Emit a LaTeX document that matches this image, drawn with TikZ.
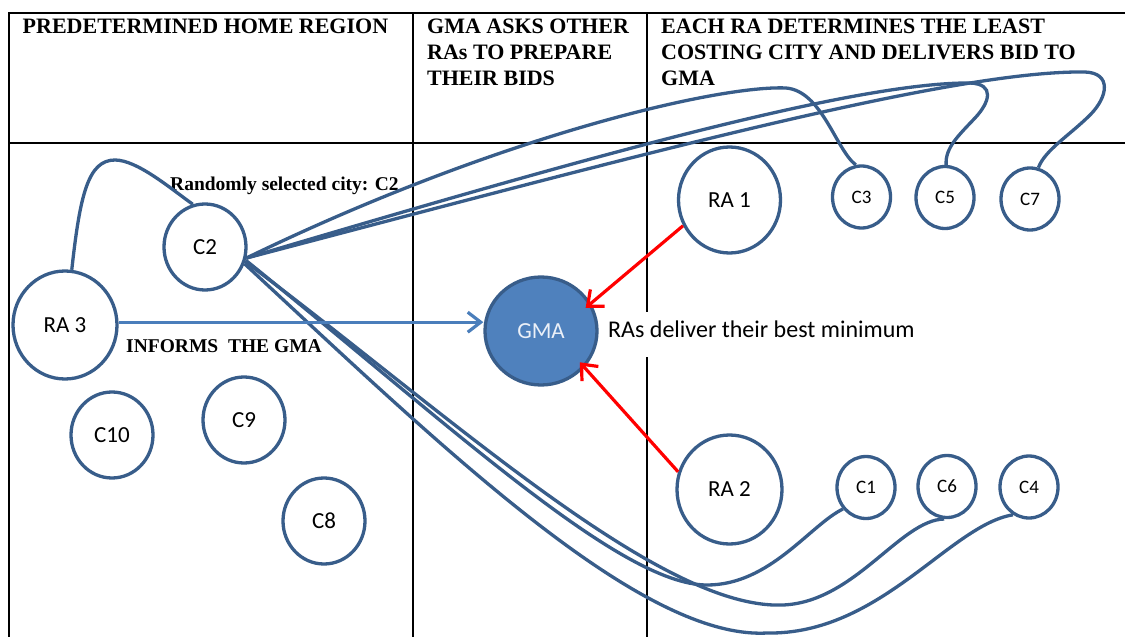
\documentclass[tikz,border=0pt]{standalone}
\usepackage{fontspec}
\setmainfont{Liberation Serif}
\newfontfamily\calib{Carlito}
\usetikzlibrary{arrows.meta,shapes.geometric}
\definecolor{cityblue}{RGB}{56,93,138}
\definecolor{gmafill}{RGB}{79,129,189}
\definecolor{arrowblue}{RGB}{74,126,187}
\begin{document}
\begin{tikzpicture}[x=1pt,y=-1pt,
  tableline/.style={draw=black,line width=1.2pt},
  hdr/.style={font=\bfseries\fontsize{22}{22}\selectfont,inner sep=0,anchor=base west},
  note/.style={font=\bfseries\fontsize{19.5}{19.5}\selectfont,inner sep=0,anchor=base west},
  ellnode/.style={ellipse,draw=cityblue,line width=3.3pt,fill=white,inner sep=0},
  bigcity/.style={ellnode,minimum width=82pt,minimum height=86pt,font=\calib\fontsize{23}{23}\selectfont},
  smallcity/.style={ellnode,minimum width=58pt,minimum height=62pt,font=\calib\fontsize{19}{19}\selectfont},
  agent/.style={ellnode,minimum width=104pt,minimum height=108pt,font=\calib\fontsize{23}{23}\selectfont},
  link/.style={draw=cityblue,line width=3.3pt},
  redarrow/.style={draw=red,line width=3.2pt,-{Straight Barb[length=13pt,width=22pt]}},
  bluearrow/.style={draw=arrowblue,line width=3.2pt,-{Straight Barb[length=13pt,width=20pt]}}
]
\useasboundingbox (0,0) rectangle (1125,637);
\fill[white] (0,0) rectangle (1125,637);
% table
\draw[draw=black,line width=1.5pt] (1125,13) -- (9,13) -- (9,637);
\draw[tableline] (9,143) -- (1125,143);
\draw[tableline] (413,13) -- (413,637);
\draw[tableline] (647,13) -- (647,637);
% headers
\node[hdr] (h1) at (22.5,33.5) {PREDETERMINED HOME REGION};
\node[hdr] (h2a) at (427,34) {GMA ASKS OTHER};
\node[hdr] (h2b) at (427,59.5) {RAs TO PREPARE};
\node[hdr] (h2c) at (427,85) {THEIR BIDS};
\node[hdr] (h3a) at (661,34) {EACH RA DETERMINES THE LEAST};
\node[hdr] (h3b) at (661,59.5) {COSTING CITY AND DELIVERS BID TO};
\node[hdr] (h3c) at (661,85) {GMA};
% notes
\node[note] (rand) at (170,190) {Randomly selected city: C2};
\node[note] (inf) at (126,352) {INFORMS\ \ THE GMA};
\node[font=\calib\fontsize{24}{24}\selectfont,fill=white,inner xsep=2pt,inner ysep=0pt,
      text height=25pt,text depth=20pt,anchor=base west] (deliv) at (606,337.3) {RAs deliver their best minimum};
% nodes
\node[agent] (RA3) at (65,325) {RA 3};
\node[bigcity] (C2) at (205,247) {C2};
\node[bigcity] (C10) at (112,435) {C10};
\node[bigcity] (C9) at (244,420) {C9};
\node[bigcity] (C8) at (324,521) {C8};
\node[ellipse,draw=cityblue,line width=3.3pt,fill=gmafill,inner sep=0,minimum width=112pt,minimum height=108pt,
      text={rgb,255:red,235;green,240;blue,248},font=\calib\fontsize{23}{23}\selectfont] (GMA) at (541,331) {GMA};
\node[agent,minimum width=102pt,minimum height=106pt] (RA1) at (729.5,200) {RA 1};
\node[agent,minimum width=105pt,minimum height=109pt] (RA2) at (729.5,489.5) {RA 2};
\node[smallcity] (C3) at (861.5,197) {C3};
\node[smallcity] (C5) at (945,197.5) {C5};
\node[smallcity] (C7) at (1030,199) {C7};
\node[smallcity] (C1) at (866,487.5) {C1};
\node[smallcity] (C6) at (947,486.5) {C6};
\node[smallcity] (C4) at (1029,487) {C4};
% connectors
\draw[link] (RA3.83) .. controls (80,195) and (88,160) .. (115,160) .. controls (137,160) and (170,188) .. (C2.106);
\draw[link] (C2.-15) .. controls (500,135) and (720,85) .. (786,88) .. controls (822,91) and (836,150) .. (C3.100);
\draw[link] (C2.-15) .. controls (560,165) and (850,82) .. (970,83) .. controls (995,84) and (990,102) .. (975,118) .. controls (958,136) and (945,148) .. (C5.88);
\draw[link] (C2.-15) .. controls (620,160) and (950,70) .. (1085,72) .. controls (1112,73) and (1108,97) .. (1090,115) .. controls (1070,135) and (1045,150) .. (C7.75);
\draw[link] (C2.-18) .. controls (450,425) and (620,585) .. (707,585) .. controls (770,585) and (810,525) .. (C1.223);
\draw[link] (C2.-20) .. controls (450,415) and (660,610) .. (783,605) .. controls (855,602) and (900,520) .. (C6.-95);
\draw[link] (C2.-23) .. controls (440,445) and (640,640) .. (767,633) .. controls (880,635) and (950,525) .. (C4.-120);
\draw[bluearrow] (RA3.3) -- (RA3.3 -| GMA.west);
\draw[redarrow,shorten >=-7pt] (RA1.209) -- (GMA.29);
\draw[redarrow,shorten >=-7pt] (RA2.161) -- (GMA.-40);
\end{tikzpicture}
\end{document}
